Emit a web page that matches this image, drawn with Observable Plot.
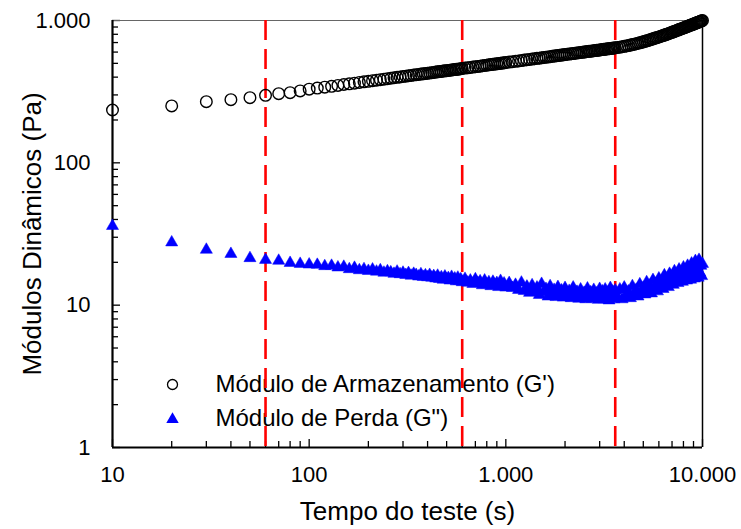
<!DOCTYPE html>
<html>
<head>
<meta charset="utf-8">
<script src="https://cdn.jsdelivr.net/npm/d3@7"></script>
<script src="https://cdn.jsdelivr.net/npm/@observablehq/plot@0.6"></script>
<style>
  html, body { margin: 0; padding: 0; background: #fff; }
  #chart svg { display: block; }
</style>
</head>
<body>
<div id="chart"></div>
<script>
// Test time (s)
const times = [
  10, 20, 30, 40, 50, 60, 70, 80, 90, 100,
  110, 120, 130, 140, 150, 160, 170, 180, 190, 200,
  210, 220, 230, 240, 250, 260, 270, 280, 290, 300, 310, 320, 330, 340, 350, 360, 370, 380, 390, 400,
  410, 420, 430, 440, 450, 460, 470, 480, 490, 500, 510, 520, 530, 540, 550, 560, 570, 580, 590, 600,
  620, 640, 660, 680, 700, 720, 740, 760, 780, 800, 820, 840, 860, 880, 900, 920, 940, 960, 980, 1000,
  1040, 1080, 1120, 1160, 1200, 1240, 1280, 1320, 1360, 1400, 1440, 1480, 1520, 1560, 1600, 1640, 1680, 1720, 1760, 1800, 1840, 1880, 1920, 1960, 2000,
  2050, 2100, 2150, 2200, 2250, 2300, 2350, 2400, 2450, 2500, 2550, 2600, 2650, 2700, 2750, 2800, 2850, 2900, 2950, 3000, 3050, 3100, 3150, 3200, 3250, 3300, 3350, 3400, 3450, 3500, 3550, 3600,
  3700, 3800, 3900, 4000, 4100, 4200, 4300, 4400, 4500, 4600, 4700, 4800, 4900, 5000, 5100, 5200, 5300, 5400, 5500, 5600, 5700, 5800, 5900, 6000,
  6100, 6200, 6300, 6400, 6500, 6600, 6700, 6800, 6900, 7000, 7100, 7200, 7300, 7400, 7500, 7600, 7700, 7800, 7900, 8000,
  8100, 8200, 8300, 8400, 8500, 8600, 8700, 8800, 8900, 9000, 9100, 9200, 9300, 9400, 9500, 9600, 9700, 9800, 9900, 10000
];

// Storage modulus G' (Pa)
const storageModulus = [
  235, 251, 269, 278, 287, 298, 306, 311, 320, 329,
  335, 340, 345, 350, 355, 359, 363, 367, 371, 374,
  378, 381, 384, 387, 390, 393, 396, 399, 401, 404, 406, 409, 411, 414, 416, 418, 420, 422, 424, 426,
  428, 430, 432, 434, 436, 438, 439, 441, 443, 444, 446, 448, 449, 451, 452, 454, 455, 457, 458, 460,
  463, 465, 468, 471, 473, 476, 478, 481, 483, 485, 488, 490, 492, 494, 496, 498, 500, 502, 504, 506,
  510, 513, 517, 520, 523, 527, 530, 533, 536, 539, 542, 544, 547, 550, 552, 555, 557, 560, 562, 565, 567, 569, 572, 574, 576,
  579, 581, 584, 586, 589, 591, 594, 596, 598, 600, 603, 605, 607, 609, 611, 613, 615, 617, 619, 621, 623, 625, 627, 629, 631, 632, 634, 636, 638, 639, 641, 643,
  646, 650, 654, 658, 662, 667, 672, 677, 682, 687, 692, 697, 703, 708, 714, 720, 725, 731, 737, 743, 749, 755, 760, 766,
  772, 778, 784, 790, 796, 802, 808, 814, 820, 826, 833, 838, 845, 851, 857, 863, 869, 875, 880, 886,
  892, 898, 904, 910, 916, 922, 927, 933, 939, 944, 950, 956, 962, 967, 973, 978, 984, 989, 995, 1000
];

// Loss modulus G'' (Pa)
const lossModulus = [
  36, 27.6, 24.5, 22.9, 21.4, 20.8, 20.5, 19.8, 19.5, 19.3,
  19.2, 18.8, 18.9, 18.4, 18.6, 17.9, 18.3, 17.6, 17.9, 17.4,
  17.8, 17.2, 17.6, 16.9, 17.3, 17.0, 16.6, 17.2, 16.5, 16.9, 16.3, 16.8, 16.1, 16.6, 16.3, 15.9, 16.5, 15.8, 16.2, 15.7,
  16.3, 15.6, 16.0, 15.4, 16.1, 15.3, 15.7, 15.1, 15.9, 15.2, 15.5, 14.9, 15.8, 15.0, 15.4, 14.7, 15.6, 14.8, 15.2, 14.5,
  15.3, 14.4, 14.9, 14.1, 15.2, 14.3, 14.7, 13.8, 14.9, 14.0, 14.5, 13.6, 14.6, 13.9, 14.3, 13.4, 14.8, 13.7, 14.2, 13.3,
  14.3, 13.2, 13.9, 12.8, 14.4, 12.6, 13.5, 12.2, 13.8, 12.4, 13.3, 11.8, 14.1, 12.3, 13.0, 11.5, 13.6, 11.9, 12.8, 11.4, 13.4, 12.0, 12.7, 11.3, 13.2,
  11.8, 12.6, 11.2, 13.3, 11.9, 12.4, 11.1, 12.9, 11.6, 12.2, 11.0, 13.1, 11.5, 12.3, 11.1, 12.8, 11.7, 12.1, 10.9, 13.0, 11.4, 12.5, 11.0, 12.9, 11.6, 12.2, 10.8, 13.2, 11.3, 12.4, 11.0, 12.7,
  11.4, 12.9, 11.0, 13.3, 11.7, 12.5, 11.2, 13.6, 12.0, 12.8, 11.5, 14.0, 12.2, 13.2, 11.9, 14.5, 12.6, 13.7, 12.1, 15.0, 12.9, 14.1, 12.5, 15.4,
  13.3, 14.6, 13.0, 16.2, 13.8, 15.1, 13.4, 16.6, 14.2, 15.6, 13.9, 17.3, 14.6, 16.0, 14.3, 17.8, 15.0, 16.5, 14.6, 18.4,
  15.3, 16.9, 14.9, 18.9, 15.8, 17.4, 15.1, 19.6, 16.2, 17.8, 15.4, 20.4, 16.5, 18.3, 15.6, 20.8, 16.9, 18.9, 16.0, 19.5
];

// Phase boundaries (s) shown as red dashed lines
const phaseBoundaries = [60, 600, 3600];

const xTickValues = [10, 100, 1000, 10000];
const yTickValues = [1, 10, 100, 1000];
const seriesLabels = ["Módulo de Armazenamento (G')", "Módulo de Perda (G\")"];
const xTitle = "Tempo do teste (s)";
const yTitle = "Módulos Dinâmicos (Pa)";

const data = times.map((t, i) => ({t, gp: storageModulus[i], gpp: lossModulus[i]}));
const minors = (majors) => majors.slice(0, -1).flatMap(m => [2, 3, 4, 5, 6, 7, 8, 9].map(k => k * m));
const fmt = d => d3.format(",")(d).replace(/,/g, ".");
const font = "'Liberation Sans', Arial, Helvetica, sans-serif";

const chart = Plot.plot({
  width: 741,
  height: 529,
  marginLeft: 112,
  marginRight: 39,
  marginTop: 20,
  marginBottom: 82,
  style: {fontFamily: font, fontSize: "22px", background: "#fff", color: "#000"},
  x: {type: "log", domain: [xTickValues[0], xTickValues[xTickValues.length - 1]]},
  y: {type: "log", domain: [yTickValues[0], yTickValues[yTickValues.length - 1]]},
  marks: [
    // inward ticks
    Plot.axisX({ticks: xTickValues, tickSize: 8, dy: -8, fill: "none", label: null, stroke: "#000", strokeWidth: 1.3}),
    Plot.axisX({ticks: minors(xTickValues), tickSize: 6, dy: -6, fill: "none", label: null, stroke: "#000", strokeWidth: 1.3}),
    Plot.axisY({ticks: yTickValues, tickSize: 8, dx: 8, fill: "none", label: null, stroke: "#000", strokeWidth: 1.3}),
    Plot.axisY({ticks: minors(yTickValues), tickSize: 6, dx: 6, fill: "none", label: null, stroke: "#000", strokeWidth: 1.3}),
    // tick labels
    Plot.axisX({ticks: xTickValues, tickSize: 0, tickPadding: 19, tickFormat: fmt, label: null, fontSize: 22, fill: "#000"}),
    Plot.axisY({ticks: yTickValues, tickSize: 0, tickPadding: 22, tickFormat: fmt, label: null, fontSize: 22, fill: "#000"}),
    // frame
    Plot.ruleY([yTickValues[yTickValues.length - 1]], {stroke: "#666", strokeWidth: 1.2}),
    Plot.ruleX([xTickValues[xTickValues.length - 1]], {stroke: "#000", strokeWidth: 1.5}),
    Plot.ruleX([xTickValues[0]], {stroke: "#000", strokeWidth: 2.2}),
    Plot.ruleY([yTickValues[0]], {stroke: "#000", strokeWidth: 2.2}),
    // titles
    Plot.text([xTitle], {frameAnchor: "bottom", dy: 64, text: d => d, fontSize: 26, fill: "#000", textAnchor: "middle", lineAnchor: "middle"}),
    Plot.text([yTitle], {frameAnchor: "left", dx: -80, rotate: -90, text: d => d, fontSize: 26, fill: "#000", textAnchor: "middle", lineAnchor: "middle"}),
    // legend
    Plot.text([seriesLabels[0]], {frameAnchor: "bottom-left", dx: 103, dy: -63, text: d => d, textAnchor: "start", lineAnchor: "middle", fontSize: 24, fill: "#000"}),
    Plot.text([seriesLabels[1]], {frameAnchor: "bottom-left", dx: 103, dy: -29, text: d => d, textAnchor: "start", lineAnchor: "middle", fontSize: 24, fill: "#000"}),
    Plot.dot([seriesLabels[0]], {frameAnchor: "bottom-left", dx: 60, dy: -63, symbol: "circle", r: 5, stroke: "#000", strokeWidth: 1.3, fill: "none"}),
    Plot.dot([seriesLabels[1]], {frameAnchor: "bottom-left", dx: 60, dy: -28, symbol: "triangle", r: 4.6, fill: "#0000FF", stroke: "none"}),
    // phase lines
    Plot.ruleX(phaseBoundaries, {stroke: "#FF0000", strokeWidth: 2.6, strokeDasharray: "20,9"}),
    // data
    Plot.dot(data, {x: "t", y: "gp", symbol: "circle", r: 5.8, stroke: "#000", strokeWidth: 1.4, fill: "none"}),
    Plot.dot(data, {x: "t", y: "gpp", symbol: "triangle", r: 4.5, fill: "#0000FF", stroke: "#0000FF", strokeWidth: 0.5})
  ]
});
document.getElementById("chart").appendChild(chart);
</script>
</body>
</html>
